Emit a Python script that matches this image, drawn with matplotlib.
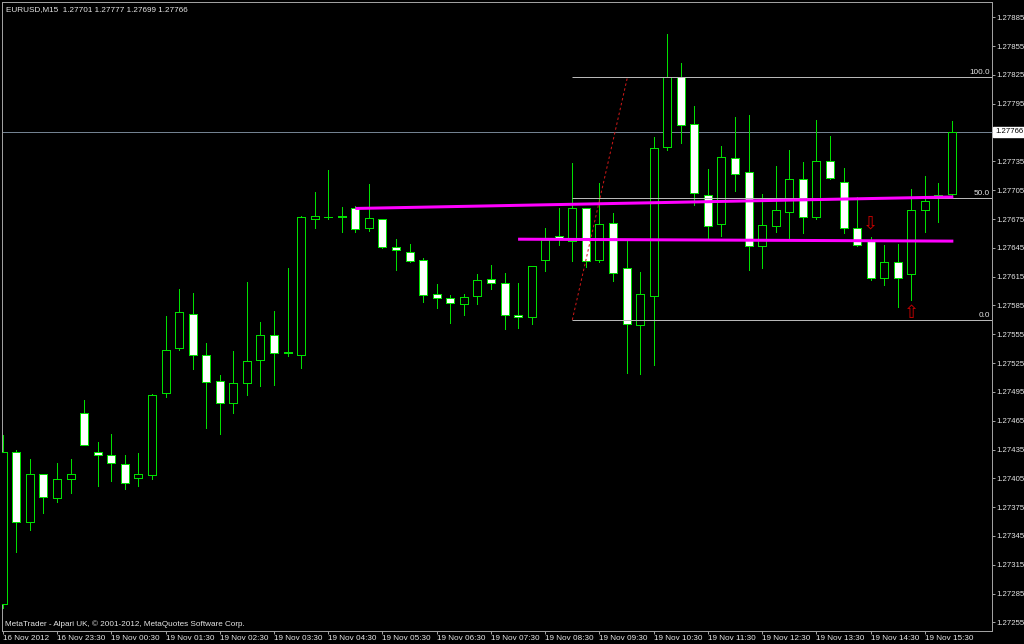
import matplotlib
matplotlib.use('Agg')
import matplotlib.pyplot as plt
import numpy as np

# ---------------- data ----------------
title_text = "EURUSD,M15  1.27701 1.27777 1.27699 1.27766"
copyright_text = "MetaTrader - Alpari UK, \u00a9 2001-2012, MetaQuotes Software Corp."

opens = [1.27274, 1.27432, 1.27359, 1.27409, 1.27384, 1.27404, 1.27473, 1.27432, 1.27429, 1.27420,
         1.27405, 1.27408, 1.27494, 1.27541, 1.27576, 1.27533, 1.27506, 1.27483, 1.27504, 1.27528,
         1.27554, 1.27535, 1.27533, 1.27675, 1.27677, 1.27678, 1.27686, 1.27666, 1.27675, 1.27646,
         1.27641, 1.27632, 1.27597, 1.27593, 1.27586, 1.27595, 1.27613, 1.27608, 1.27575, 1.27573,
         1.27632, 1.27657, 1.27652, 1.27686, 1.27632, 1.27671, 1.27624, 1.27565, 1.27595, 1.27750,
         1.27823, 1.27774, 1.27700, 1.27670, 1.27739, 1.27724, 1.27647, 1.27668, 1.27682, 1.27717,
         1.27677, 1.27735, 1.27714, 1.27666, 1.27653, 1.27614, 1.27630, 1.27618, 1.27684, 1.27697,
         1.27701]
highs = [1.27450, 1.27434, 1.27425, 1.27410, 1.27421, 1.27425, 1.27487, 1.27443, 1.27451, 1.27429,
         1.27431, 1.27493, 1.27574, 1.27602, 1.27598, 1.27546, 1.27513, 1.27538, 1.27609, 1.27568,
         1.27579, 1.27624, 1.27678, 1.27703, 1.27726, 1.27688, 1.27689, 1.27711, 1.27675, 1.27654,
         1.27649, 1.27634, 1.27607, 1.27596, 1.27597, 1.27618, 1.27627, 1.27619, 1.27608, 1.27626,
         1.27666, 1.27686, 1.27733, 1.27687, 1.27712, 1.27681, 1.27652, 1.27620, 1.27760, 1.27868,
         1.27837, 1.27793, 1.27727, 1.27751, 1.27781, 1.27783, 1.27701, 1.27730, 1.27747, 1.27734,
         1.27778, 1.27761, 1.27728, 1.27698, 1.27656, 1.27648, 1.27649, 1.27706, 1.27720, 1.27712,
         1.27777]
lows = [1.27270, 1.27328, 1.27351, 1.27369, 1.27380, 1.27390, 1.27440, 1.27397, 1.27402, 1.27394,
        1.27397, 1.27404, 1.27490, 1.27539, 1.27519, 1.27457, 1.27451, 1.27473, 1.27492, 1.27501,
        1.27502, 1.27532, 1.27520, 1.27666, 1.27675, 1.27662, 1.27661, 1.27663, 1.27645, 1.27622,
        1.27630, 1.27589, 1.27582, 1.27567, 1.27575, 1.27586, 1.27602, 1.27561, 1.27562, 1.27566,
        1.27621, 1.27648, 1.27631, 1.27625, 1.27630, 1.27610, 1.27515, 1.27514, 1.27523, 1.27747,
        1.27754, 1.27690, 1.27655, 1.27657, 1.27704, 1.27622, 1.27624, 1.27661, 1.27654, 1.27660,
        1.27675, 1.27717, 1.27660, 1.27647, 1.27611, 1.27606, 1.27583, 1.27591, 1.27662, 1.27672,
        1.27699]
closes = [1.27432, 1.27359, 1.27409, 1.27386, 1.27404, 1.27409, 1.27440, 1.27429, 1.27421, 1.27400,
          1.27410, 1.27492, 1.27539, 1.27578, 1.27533, 1.27505, 1.27483, 1.27504, 1.27527, 1.27554,
          1.27535, 1.27537, 1.27677, 1.27678, 1.27677, 1.27677, 1.27665, 1.27676, 1.27646, 1.27643,
          1.27631, 1.27596, 1.27593, 1.27588, 1.27594, 1.27611, 1.27608, 1.27575, 1.27573, 1.27626,
          1.27653, 1.27655, 1.27686, 1.27631, 1.27670, 1.27619, 1.27566, 1.27597, 1.27749, 1.27823,
          1.27773, 1.27702, 1.27668, 1.27740, 1.27722, 1.27647, 1.27669, 1.27684, 1.27717, 1.27677,
          1.27735, 1.27718, 1.27666, 1.27648, 1.27614, 1.27630, 1.27614, 1.27684, 1.27694, 1.27700,
          1.27766]

time_labels = ["16 Nov 2012", "16 Nov 23:30", "19 Nov 00:30", "19 Nov 01:30", "19 Nov 02:30",
               "19 Nov 03:30", "19 Nov 04:30", "19 Nov 05:30", "19 Nov 06:30", "19 Nov 07:30",
               "19 Nov 08:30", "19 Nov 09:30", "19 Nov 10:30", "19 Nov 11:30", "19 Nov 12:30",
               "19 Nov 13:30", "19 Nov 14:30", "19 Nov 15:30"]
time_label_bars = [0, 4, 8, 12, 16, 20, 24, 28, 32, 36, 40, 44, 48, 52, 56, 60, 64, 68]

price_ticks = [1.27885, 1.27855, 1.27825, 1.27795, 1.27765, 1.27735, 1.27705, 1.27675, 1.27645,
               1.27615, 1.27585, 1.27555, 1.27525, 1.27495, 1.27465, 1.27435, 1.27405, 1.27375,
               1.27345, 1.27315, 1.27285, 1.27255]
bid_price = 1.27766

fib_levels = [1.27823, 1.276965, 1.27570]
fib_names = ["100.0", "50.0", "0.0"]
fib_start_bar = 42
fib_anchor_bars = [42, 46.07]
fib_anchor_prices = [1.27570, 1.27823]

trend_upper_bars = [26, 70.1]
trend_upper_prices = [1.27686, 1.27698]
trend_lower_bars = [38, 70.1]
trend_lower_prices = [1.27654, 1.27652]

arrow_down_bar, arrow_down_price = 64, 1.27670
arrow_up_bar, arrow_up_price = 67, 1.27577

# ---------------- style ----------------
W, H = 1024, 644
PX = 72.0 / 100.0           # one pixel in points
GREEN = '#00e000'
FONT = 'Liberation Sans'
FS = 5.9
FSY = 5.6
TXT = '#e6e6e6'
BORDER = '#a0a0a0'

fig = plt.figure(figsize=(W / 100, H / 100), dpi=100, facecolor='black')
ax = fig.add_axes([1.5 / W, 13 / H, 990.5 / W, 629 / H], facecolor='black')

bar_px = 13.56
x0_px = 2.8
ax.set_xlim((1.5 - x0_px) / bar_px, (992 - x0_px) / bar_px)
ax.set_ylim(1.27246, 1.27901)

n = len(opens)
idx = np.arange(n)
o = np.array(opens); c = np.array(closes); h = np.array(highs); l = np.array(lows)

# bid line
ax.axhline(bid_price, color='#738291', lw=1 * PX, zorder=1)

# wicks
ax.vlines(idx, l, h, color=GREEN, lw=1 * PX, zorder=2, antialiased=False)

# bodies
bw = 8 / bar_px
for i in range(n):
    bot = min(o[i], c[i]); ht = abs(c[i] - o[i])
    face = 'black' if c[i] > o[i] else 'white'
    if ht < 1e-6:
        ax.hlines(o[i], i - bw / 2, i + bw / 2, color=GREEN, lw=1 * PX, zorder=3, antialiased=False)
    else:
        ax.bar(i, ht, bottom=bot, width=bw, facecolor=face, edgecolor=GREEN,
               linewidth=1 * PX, zorder=3, antialiased=False)

# fibonacci
xr = ax.get_xlim()[1]
for lev, name in zip(fib_levels, fib_names):
    ax.hlines(lev, fib_start_bar, xr, color='#b8b8b8', lw=1 * PX, zorder=4)
    ax.annotate(name, xy=(1, lev), xycoords=('axes fraction', 'data'),
                xytext=(-2, 1), textcoords='offset pixels', ha='right', va='bottom',
                fontsize=FS, family=FONT, color=TXT, zorder=6)
ax.plot(fib_anchor_bars, fib_anchor_prices, color='#d01818', lw=1 * PX,
        ls=(0, (2.5, 2.5)), zorder=4)

# magenta trendlines
ax.plot(trend_upper_bars, trend_upper_prices, color='#ff00ff', lw=3 * PX, zorder=5,
        solid_capstyle='butt')
ax.plot(trend_lower_bars, trend_lower_prices, color='#ff00ff', lw=3 * PX, zorder=5,
        solid_capstyle='butt')

# arrows
ax.text(arrow_down_bar, arrow_down_price, '\u21e9', color='#c80000', fontsize=13,
        family='DejaVu Sans', ha='center', va='center', zorder=6)
ax.text(arrow_up_bar, arrow_up_price, '\u21e7', color='#c80000', fontsize=13,
        family='DejaVu Sans', ha='center', va='center', zorder=6)

# axes & ticks
for s in ax.spines.values():
    s.set_color(BORDER)
    s.set_linewidth(1 * PX)
ax.yaxis.tick_right()
ax.set_yticks(price_ticks)
ax.set_yticklabels(['' if abs(p - bid_price) < 0.00005 else '%.5f' % p for p in price_ticks])
ax.set_xticks(time_label_bars)
ax.set_xticklabels(time_labels, ha='left')
ax.tick_params(axis='both', colors=BORDER, labelcolor=TXT,
               direction='out', length=3 * PX, width=1 * PX)
ax.tick_params(axis='x', pad=0.6, labelsize=FS)
ax.tick_params(axis='y', pad=1.2, labelsize=FSY)
for lab in ax.get_xticklabels() + ax.get_yticklabels():
    lab.set_family(FONT)

# current price label
ax.annotate('%.5f' % bid_price, xy=(1, bid_price), xycoords=('axes fraction', 'data'),
            xytext=(3, 0), textcoords='offset pixels', ha='left', va='center',
            fontsize=FSY, family=FONT, color='black', zorder=10, annotation_clip=False,
            bbox=dict(boxstyle='square,pad=0.2', facecolor='white', edgecolor='white'))

# texts
fig.text(6 / W, 1 - 10 / H, title_text, color=TXT, fontsize=FS, family=FONT,
         ha='left', va='center')
fig.text(5 / W, 1 - 624 / H, copyright_text, color=TXT, fontsize=FS, family=FONT,
         ha='left', va='center')

fig.savefig('out.png', dpi=100, facecolor='black')
